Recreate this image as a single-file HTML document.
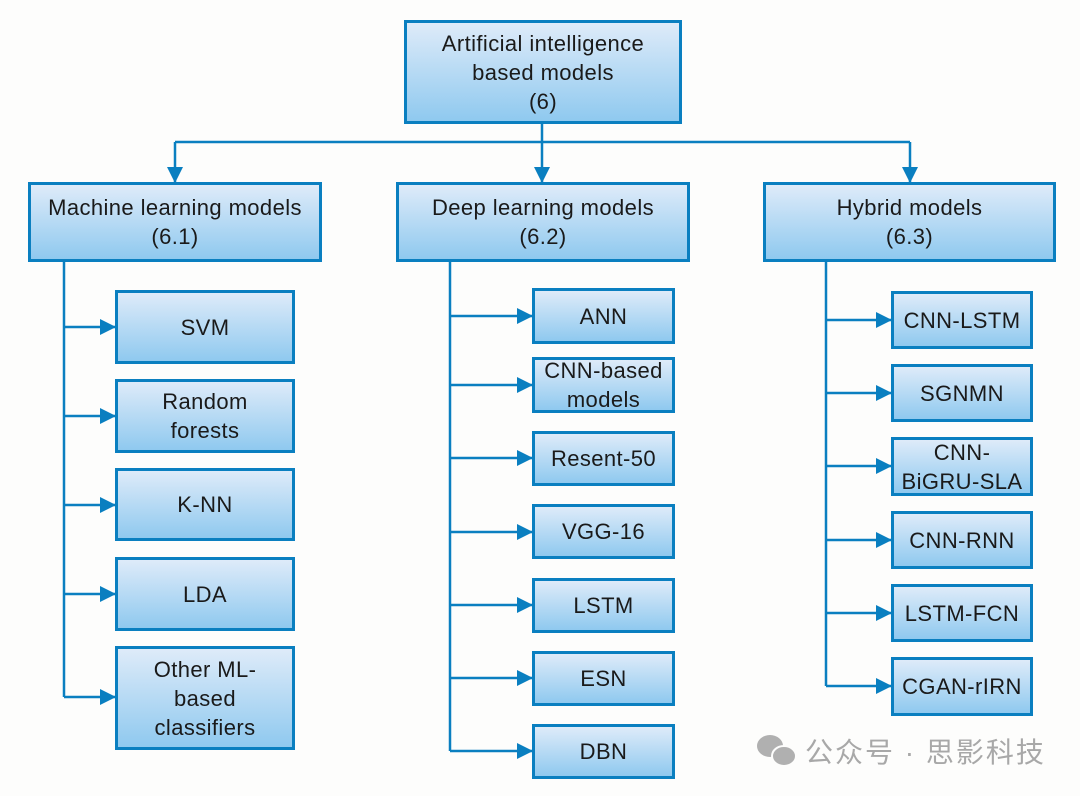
<!DOCTYPE html>
<html><head><meta charset="utf-8"><style>
body{margin:0;width:1080px;height:796px;background:#fdfdfc;position:relative;overflow:hidden;font-family:"Liberation Sans","Noto Sans CJK SC",sans-serif;}
.b{position:absolute;box-sizing:border-box;border:3px solid #0a7fc0;background:linear-gradient(#deebf9,#8fc9ef);display:flex;align-items:center;justify-content:center;text-align:center;font-size:22px;letter-spacing:0.4px;line-height:29px;color:#1a1a1a;}
svg{position:absolute;left:0;top:0}
.wm{position:absolute;left:755px;top:731px;font-size:28px;color:#a8a8a8;letter-spacing:2px;}
</style></head><body>
<svg width="1080" height="796">
<defs>
<marker id="d" markerWidth="16" markerHeight="16" refX="15" refY="8" orient="auto" markerUnits="userSpaceOnUse"><path d="M0,0L16,8L0,16z" fill="#0a7fc0"/></marker></defs>
<g stroke="#0a7fc0" stroke-width="2.5" fill="none">
<path d="M175,142H910"/>
<path d="M175,142V182" marker-end="url(#d)"/>
<path d="M542,124V182" marker-end="url(#d)"/>
<path d="M910,142V182" marker-end="url(#d)"/>
<path d="M64,262V697"/>
<path d="M64,327H115" marker-end="url(#d)"/>
<path d="M64,416H115" marker-end="url(#d)"/>
<path d="M64,505H115" marker-end="url(#d)"/>
<path d="M64,594H115" marker-end="url(#d)"/>
<path d="M64,697H115" marker-end="url(#d)"/>
<path d="M450,262V751"/>
<path d="M450,316H532" marker-end="url(#d)"/>
<path d="M450,385H532" marker-end="url(#d)"/>
<path d="M450,458H532" marker-end="url(#d)"/>
<path d="M450,532H532" marker-end="url(#d)"/>
<path d="M450,605H532" marker-end="url(#d)"/>
<path d="M450,678H532" marker-end="url(#d)"/>
<path d="M450,751H532" marker-end="url(#d)"/>
<path d="M826,262V686"/>
<path d="M826,320H891" marker-end="url(#d)"/>
<path d="M826,393H891" marker-end="url(#d)"/>
<path d="M826,466H891" marker-end="url(#d)"/>
<path d="M826,540H891" marker-end="url(#d)"/>
<path d="M826,613H891" marker-end="url(#d)"/>
<path d="M826,686H891" marker-end="url(#d)"/>
</g></svg>
<div class="b" style="left:404px;top:20px;width:278px;height:104px">Artificial intelligence<br>based models<br>(6)</div>
<div class="b" style="left:28px;top:182px;width:294px;height:80px">Machine learning models<br>(6.1)</div>
<div class="b" style="left:396px;top:182px;width:294px;height:80px">Deep learning models<br>(6.2)</div>
<div class="b" style="left:763px;top:182px;width:293px;height:80px">Hybrid models<br>(6.3)</div>

<div class="b" style="left:115px;top:290px;width:180px;height:74px">SVM</div>
<div class="b" style="left:115px;top:379px;width:180px;height:74px">Random<br>forests</div>
<div class="b" style="left:115px;top:468px;width:180px;height:73px">K-NN</div>
<div class="b" style="left:115px;top:557px;width:180px;height:74px">LDA</div>
<div class="b" style="left:115px;top:646px;width:180px;height:104px">Other ML-<br>based<br>classifiers</div>

<div class="b" style="left:532px;top:288px;width:143px;height:56px">ANN</div>
<div class="b" style="left:532px;top:357px;width:143px;height:56px">CNN-based<br>models</div>
<div class="b" style="left:532px;top:431px;width:143px;height:55px">Resent-50</div>
<div class="b" style="left:532px;top:504px;width:143px;height:55px">VGG-16</div>
<div class="b" style="left:532px;top:578px;width:143px;height:55px">LSTM</div>
<div class="b" style="left:532px;top:651px;width:143px;height:55px">ESN</div>
<div class="b" style="left:532px;top:724px;width:143px;height:55px">DBN</div>

<div class="b" style="left:891px;top:291px;width:142px;height:58px">CNN-LSTM</div>
<div class="b" style="left:891px;top:364px;width:142px;height:58px">SGNMN</div>
<div class="b" style="left:891px;top:437px;width:142px;height:59px">CNN-<br>BiGRU-SLA</div>
<div class="b" style="left:891px;top:511px;width:142px;height:58px">CNN-RNN</div>
<div class="b" style="left:891px;top:584px;width:142px;height:58px">LSTM-FCN</div>
<div class="b" style="left:891px;top:657px;width:142px;height:59px">CGAN-rIRN</div>

<svg width="1080" height="796"><g fill="#b0b0b0"><ellipse cx="770" cy="746" rx="13" ry="11"/><ellipse cx="784" cy="756" rx="12" ry="10" stroke="#fdfdfc" stroke-width="2"/></g></svg>
<div class="wm" style="left:805px">公众号 · 思影科技</div>
</body></html>
